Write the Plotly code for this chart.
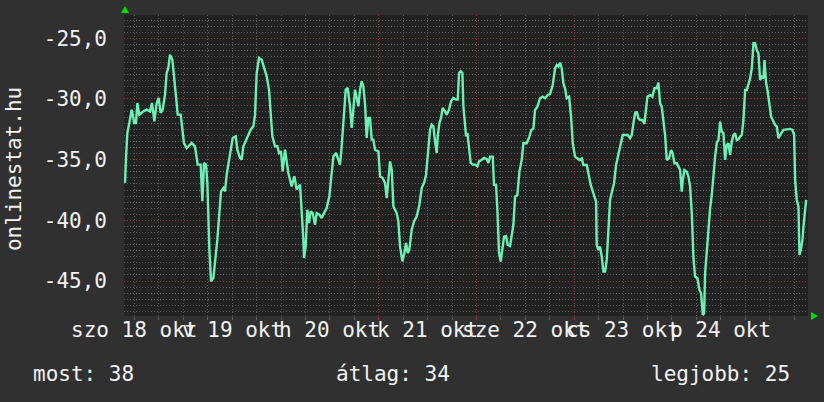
import pandas as pd
import plotly.graph_objects as go

# ---- data ----
# hours since 2025-10-18 00:00, and the measured value
hours = [9.45, 9.68, 9.93, 10.25, 10.74, 11.32, 11.73, 11.89, 12.38, 12.71, 13.20, 14.18, 15.00, 15.82,
         16.31, 16.89, 17.46, 17.95, 18.44, 18.93, 19.51, 19.91, 20.32, 20.73, 21.31, 21.72, 22.13,
         22.62, 23.35, 24.17, 24.83, 26.06, 26.87, 27.53, 28.27, 28.68, 29.09, 29.58, 29.91, 30.40,
         30.81, 31.38, 31.87, 32.36, 32.85, 33.26, 33.84, 34.24, 34.65, 35.23, 35.64, 36.13, 36.87,
         37.27, 37.93, 38.34, 38.75, 39.57, 39.98, 40.55, 41.21, 41.62, 42.02, 42.60, 43.25, 43.91,
         44.48, 45.05, 45.87, 46.53, 47.10, 47.51, 48.00, 48.41, 48.98, 49.80, 50.62, 51.28, 51.85,
         52.67, 53.08, 53.49, 53.65, 54.06, 54.47, 54.88, 55.29, 55.78, 56.35, 56.76, 57.42, 57.99,
         58.56, 59.22, 59.87, 60.45, 60.86, 61.51, 62.08, 62.49, 62.90, 63.31, 63.89, 64.38, 64.95,
         65.36, 65.77, 66.18, 66.59, 67.00, 67.41, 67.82, 68.23, 68.64, 69.04, 69.45, 69.86, 70.27,
         70.68, 71.09, 71.91, 72.32, 72.97, 73.55, 73.96, 74.37, 74.78, 75.19, 75.60, 76.41, 76.82,
         77.23, 77.81, 78.30, 78.71, 79.12, 79.52, 80.10, 80.67, 81.33, 81.98, 82.56, 83.13, 83.62,
         84.19, 84.60, 85.01, 85.42, 85.83, 86.24, 86.49, 86.90, 87.30, 87.71, 88.29, 88.70, 89.27,
         89.76, 90.33, 90.99, 91.40, 91.73, 92.14, 92.55, 92.79, 93.20, 93.45, 93.77, 94.18, 94.59,
         95.08, 95.66, 96.23, 96.64, 97.30, 97.87, 98.52, 98.93, 99.34, 100.00, 100.32, 100.81,
         101.14, 101.55, 101.96, 102.37, 102.78, 103.27, 103.68, 104.25, 104.66, 105.07, 105.48,
         106.05, 106.55, 107.12, 107.53, 108.35, 109.00, 109.49, 109.99, 110.39, 110.97, 111.62,
         112.28, 112.85, 113.51, 114.08, 114.73, 115.31, 115.72, 116.13, 116.54, 116.95, 117.35,
         117.76, 118.17, 118.75, 119.24, 119.65, 120.22, 120.79, 121.29, 121.86, 122.27, 123.09,
         123.58, 124.07, 124.73, 125.38, 125.54, 125.95, 126.36, 126.77, 127.18, 127.59, 128.00,
         128.41, 128.82, 129.39, 129.80, 130.29, 130.87, 131.44, 131.93, 132.50, 133.16, 133.73,
         134.14, 134.55, 134.96, 135.37, 135.78, 136.19, 136.76, 137.25, 137.58, 137.99, 138.65,
         139.22, 139.71, 140.28, 140.69, 141.10, 141.51, 141.92, 142.33, 142.74, 143.31, 143.80,
         144.21, 144.62, 145.20, 145.61, 146.02, 146.43, 146.68, 147.08, 147.66, 148.07, 148.48,
         148.89, 149.30, 149.70, 150.28, 150.77, 151.18, 151.59, 151.92, 152.16, 152.57, 152.98,
         153.39, 153.80, 154.21, 154.62, 155.03, 155.44, 155.85, 156.26, 156.67, 157.07, 157.48,
         157.89, 158.30, 158.71, 159.12, 159.53, 159.94, 160.35, 160.76, 161.17, 161.58, 161.99,
         162.40, 162.81, 163.22, 163.63, 164.04, 164.44, 164.85, 165.26, 165.51, 165.67, 166.08,
         166.49, 166.74, 167.15, 167.47, 167.97, 168.38, 168.78, 169.36, 169.77, 170.18, 170.59,
         171.00, 171.41, 172.22, 173.04, 173.62, 174.03, 174.27, 174.68, 175.09, 175.34, 175.66,
         176.07, 176.32, 176.57, 176.98]

values = [-36.5, -36.9, -34.86, -32.80, -31.98, -30.88, -31.57, -31.98, -31.98, -30.33, -31.29, -31.02,
          -30.88, -31.02, -30.33, -31.84, -30.33, -29.92, -31.15, -30.88, -29.64, -27.86, -27.45,
          -26.35, -26.76, -28.41, -29.51, -31.29, -31.29, -33.63, -34.04, -33.63, -33.90, -35.41,
          -35.41, -38.43, -35.27, -35.41, -36.92, -42.42, -45.03, -44.75, -43.24, -41.59, -39.40,
          -37.61, -37.34, -37.61, -36.24, -35.00, -34.18, -33.21, -33.08, -34.18, -34.86, -35.00,
          -33.90, -33.21, -32.94, -32.53, -32.25, -31.29, -27.86, -26.62, -26.76, -27.58, -28.13,
          -29.23, -33.08, -33.90, -33.90, -34.45, -34.31, -35.96, -34.18, -36.10, -37.20, -36.37,
          -37.47, -37.06, -39.12, -41.59, -43.10, -42.14, -39.12, -40.22, -39.26, -39.40, -40.36,
          -39.40, -39.53, -39.81, -39.40, -38.98, -38.02, -36.37, -34.73, -34.45, -35.00, -35.41,
          -33.90, -31.70, -29.23, -29.09, -30.60, -32.39, -30.74, -29.23, -29.92, -30.60, -29.23,
          -28.54, -28.96, -30.47, -33.21, -31.57, -31.57, -33.35, -33.35, -34.18, -34.31, -36.37,
          -36.51, -36.92, -38.16, -36.51, -35.14, -35.82, -38.85, -39.40, -40.08, -42.14, -43.38,
          -42.69, -41.87, -42.69, -42.42, -40.77, -40.08, -39.67, -38.71, -37.34, -36.92, -36.24,
          -34.18, -32.53, -32.12, -32.25, -33.49, -34.45, -33.08, -31.98, -31.57, -30.74, -31.02,
          -31.29, -30.88, -30.19, -29.92, -30.05, -30.05, -27.86, -27.72, -27.86, -30.60, -32.53,
          -33.08, -32.80, -33.90, -35.27, -35.41, -35.41, -35.55, -35.14, -35.00, -34.86, -34.95,
          -35.27, -34.75, -34.75, -37.08, -37.08, -39.14, -42.71, -43.40, -42.16, -41.34, -41.29,
          -42.03, -42.11, -41.06, -40.38, -38.04, -37.91, -35.98, -35.02, -33.65, -33.65, -33.10,
          -32.55, -32.42, -30.91, -30.63, -29.94, -29.81, -29.94, -29.67, -29.59, -28.85, -27.47,
          -27.20, -27.34, -27.01, -27.47, -28.71, -29.12, -29.94, -29.81, -31.46, -33.65, -34.75,
          -34.89, -35.02, -34.89, -35.44, -35.44, -36.26, -37.08, -37.77, -38.46, -42.03, -42.44,
          -42.16, -42.99, -44.22, -44.22, -43.26, -40.79, -38.32, -37.49, -36.94, -35.44, -34.61,
          -33.93, -32.97, -32.97, -32.97, -33.24, -32.97, -32.01, -31.18, -31.04, -31.59, -31.73,
          -31.73, -32.06, -31.04, -29.81, -29.67, -29.81, -29.12, -29.12, -28.65, -30.36, -30.63,
          -31.73, -32.97, -35.02, -34.89, -34.20, -34.48, -35.30, -35.30, -35.57, -35.85, -37.63,
          -36.67, -35.85, -35.99, -36.40, -37.22, -39.42, -43.12, -44.63, -44.77, -45.73, -46.01,
          -47.79, -47.65, -44.36, -42.44, -40.10, -39.01, -37.91, -36.12, -34.75, -33.60, -33.38,
          -31.87, -32.69, -32.83, -35.02, -33.79, -33.65, -34.61, -33.51, -32.97, -32.83, -33.38,
          -33.32, -33.10, -32.97, -31.73, -29.26, -29.26, -28.71, -28.30, -27.47, -25.41, -25.41,
          -25.96, -26.24, -27.61, -28.43, -28.16, -28.30, -26.79, -28.71, -29.26, -30.77, -31.46,
          -31.73, -32.14, -32.28, -33.24, -32.97, -32.69, -32.55, -32.50, -32.47, -32.55, -32.97,
          -36.67, -38.32, -38.87, -42.85, -42.44, -41.61, -40.52, -39.42, -38.32]

day_label_dates = ["2025-10-18 12:00", "2025-10-19 12:00", "2025-10-20 12:00", "2025-10-21 12:00",
                   "2025-10-22 12:00", "2025-10-23 12:00", "2025-10-24 12:00"]
day_label_texts = ["szo 18 okt", "v 19 okt", "h 20 okt", "k 21 okt", "sze 22 okt", "cs 23 okt", "p 24 okt"]

y_tick_vals = [-45, -40, -35, -30, -25]
y_tick_texts = ["-45,0", "-40,0", "-35,0", "-30,0", "-25,0"]

axis_title = "onlinestat.hu"
summary_texts = ["most: 38", "átlag: 34", "legjobb: 25"]

x_start = "2025-10-18 09:26"
x_end = "2025-10-25 09:26"
y_range = [-47.88, -23.08]

# ---- figure ----
base = pd.Timestamp("2025-10-18 00:00")
times = [base + pd.Timedelta(hours=h) for h in hours]

FONT = "DejaVu Sans Mono"
TXT = "#f2f2f2"
LINE = "#6cf0b4"
MAJOR = "#8c3a3a"
MINOR = "#5c5c5c"
DASH = "1px,2px"

fig = go.Figure()
fig.add_trace(go.Scatter(x=times, y=values, mode="lines",
                         line=dict(color=LINE, width=2.4), hoverinfo="skip"))

midnights = pd.date_range("2025-10-19", "2025-10-25", freq="D")

fig.update_layout(
    width=824, height=402,
    margin=dict(l=124, r=16, t=15, b=86),
    paper_bgcolor="#303030",
    plot_bgcolor="#222222",
    showlegend=False,
    font=dict(family=FONT, size=21, color=TXT),
    xaxis=dict(
        type="date", range=[x_start, x_end],
        tickvals=list(midnights), showticklabels=False,
        showgrid=True, gridcolor=MAJOR, griddash=DASH, gridwidth=1,
        ticks="outside", ticklen=3, tickcolor=MAJOR,
        minor=dict(dtick=6 * 3600 * 1000, tick0="2025-10-19", showgrid=True,
                   gridcolor=MINOR, griddash=DASH, ticks="outside",
                   ticklen=3, tickcolor=MINOR),
        zeroline=False, showline=False, fixedrange=True,
    ),
    yaxis=dict(
        range=y_range, tickvals=y_tick_vals, ticktext=y_tick_texts,
        tickfont=dict(family=FONT, size=21, color=TXT),
        showgrid=True, gridcolor=MAJOR, griddash=DASH, gridwidth=1,
        ticks="", ticklabelstandoff=16,
        minor=dict(dtick=0.5, tick0=-45, showgrid=True, gridcolor=MINOR, griddash=DASH),
        zeroline=False, showline=False, fixedrange=True,
    ),
)

# x day labels (they overlap in the original, exactly like this)
for d, t in zip(day_label_dates, day_label_texts):
    fig.add_annotation(x=d, y=-0.048, xref="x", yref="paper", text=t, showarrow=False,
                       xanchor="center", yanchor="middle",
                       font=dict(family=FONT, size=21, color=TXT))

# y axis title
fig.add_annotation(x=-0.1608, y=0.488, xref="paper", yref="paper", text=axis_title,
                   textangle=-90, showarrow=False, xanchor="center", yanchor="middle",
                   font=dict(family=FONT, size=21, color=TXT))

# summary line
summary_px = [31, 334, 649]
for px, t in zip(summary_px, summary_texts):
    fig.add_annotation(x=(px - 124) / 684, y=(316 - 374) / 301, xref="paper", yref="paper",
                       text=t, showarrow=False, xanchor="left", yanchor="middle",
                       font=dict(family=FONT, size=21, color=TXT))

# arrows at the axis ends
def px2paper(px, py):
    return (px - 124) / 684, (316 - py) / 301

def tri(points):
    pts = [px2paper(*p) for p in points]
    return "M {} {} L {} {} L {} {} Z".format(pts[0][0], pts[0][1], pts[1][0], pts[1][1], pts[2][0], pts[2][1])

fig.add_shape(type="path", xref="paper", yref="paper", path=tri([(125, 6), (121, 13), (129, 13)]),
              fillcolor="#00e000", line=dict(width=0))
fig.add_shape(type="path", xref="paper", yref="paper", path=tri([(818, 316), (811, 312), (811, 320)]),
              fillcolor="#00e000", line=dict(width=0))

fig.write_html("out.html", config={"displayModeBar": False},
               post_script="document.body.style.margin='0';")
